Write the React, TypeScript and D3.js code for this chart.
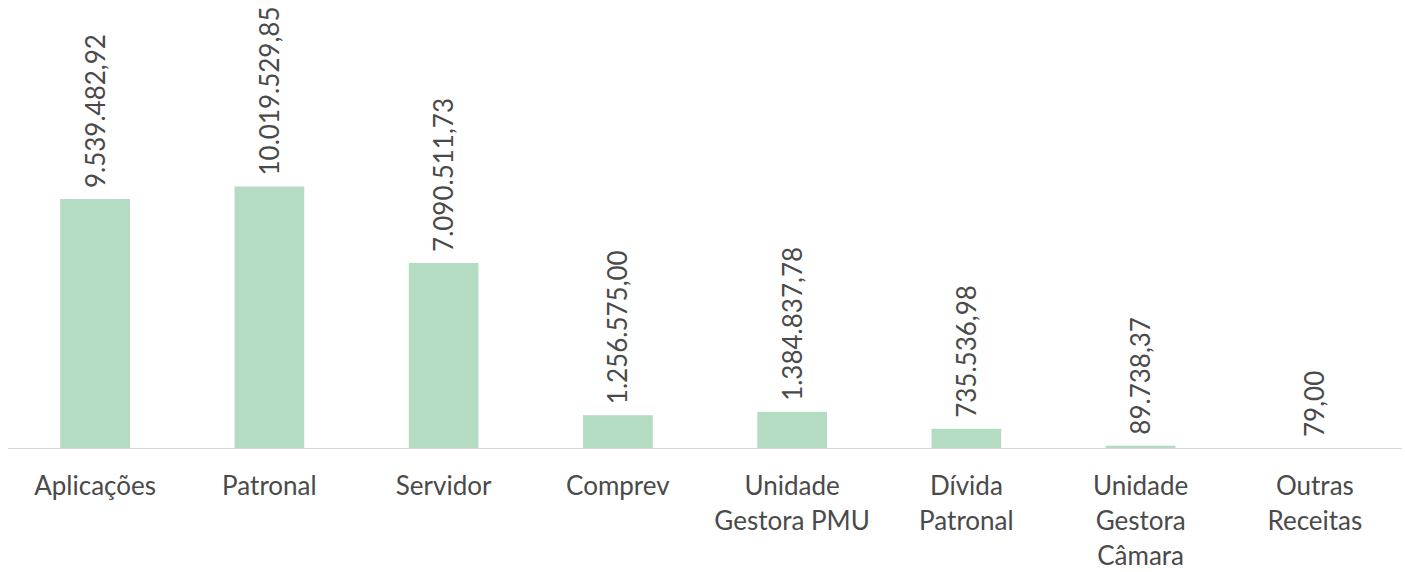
import React from "react";
import * as d3 from "d3";

const categories: string[][] = [
  ["Aplicações"],
  ["Patronal"],
  ["Servidor"],
  ["Comprev"],
  ["Unidade", "Gestora PMU"],
  ["Dívida", "Patronal"],
  ["Unidade", "Gestora", "Câmara"],
  ["Outras", "Receitas"],
];
const values: number[] = [9539482.92, 10019529.85, 7090511.73, 1256575.0, 1384837.78, 735536.98, 89738.37, 79.0];
const valueLabels: string[] = [
  "9.539.482,92",
  "10.019.529,85",
  "7.090.511,73",
  "1.256.575,00",
  "1.384.837,78",
  "735.536,98",
  "89.738,37",
  "79,00",
];

const W = 1405;
const H = 572;
const baseY = 448;
const FONT = "Lato, 'Open Sans', sans-serif";
const TEXT = "#4a4a4a";

export default function App() {
  const idx = categories.map((_, i) => String(i));
  const x = d3.scaleBand<string>().domain(idx).range([8, 1402]).paddingInner(0.6).paddingOuter(0.3);
  const y = d3.scaleLinear().domain([0, 10e6]).range([baseY, baseY - 261]);

  return (
    <svg width={W} height={H} style={{ position: "absolute", left: 0, top: 0, background: "#fff" }}>
      <rect x={0} y={0} width={W} height={H} fill="#ffffff" />
      {values.map((v, i) => {
        const bx = x(String(i))!;
        const bw = x.bandwidth();
        const top = y(v);
        return (
          <rect key={"b" + i} x={bx} y={top} width={bw} height={Math.max(0, baseY - top)} fill="#b4dcc2" />
        );
      })}
      <line x1={8} x2={1402} y1={baseY + 0.5} y2={baseY + 0.5} stroke="#d4d4d4" strokeWidth={1.2} />
      {values.map((v, i) => {
        const cx = x(String(i))! + x.bandwidth() / 2;
        const top = y(v);
        const ty = top - 11;
        return (
          <text
            key={"v" + i}
            transform={`translate(${cx},${ty}) rotate(-90)`}
            dy="0.36em"
            textAnchor="start"
            fontFamily={FONT}
            fontSize={26}
            fill={TEXT}
          >
            {valueLabels[i]}
          </text>
        );
      })}
      {categories.map((lines, i) => {
        const cx = x(String(i))! + x.bandwidth() / 2;
        return (
          <text key={"c" + i} textAnchor="middle" fontFamily={FONT} fontSize={26} fill={TEXT}>
            {lines.map((l, j) => (
              <tspan key={j} x={cx} y={495 + j * 35}>
                {l}
              </tspan>
            ))}
          </text>
        );
      })}
    </svg>
  );
}
